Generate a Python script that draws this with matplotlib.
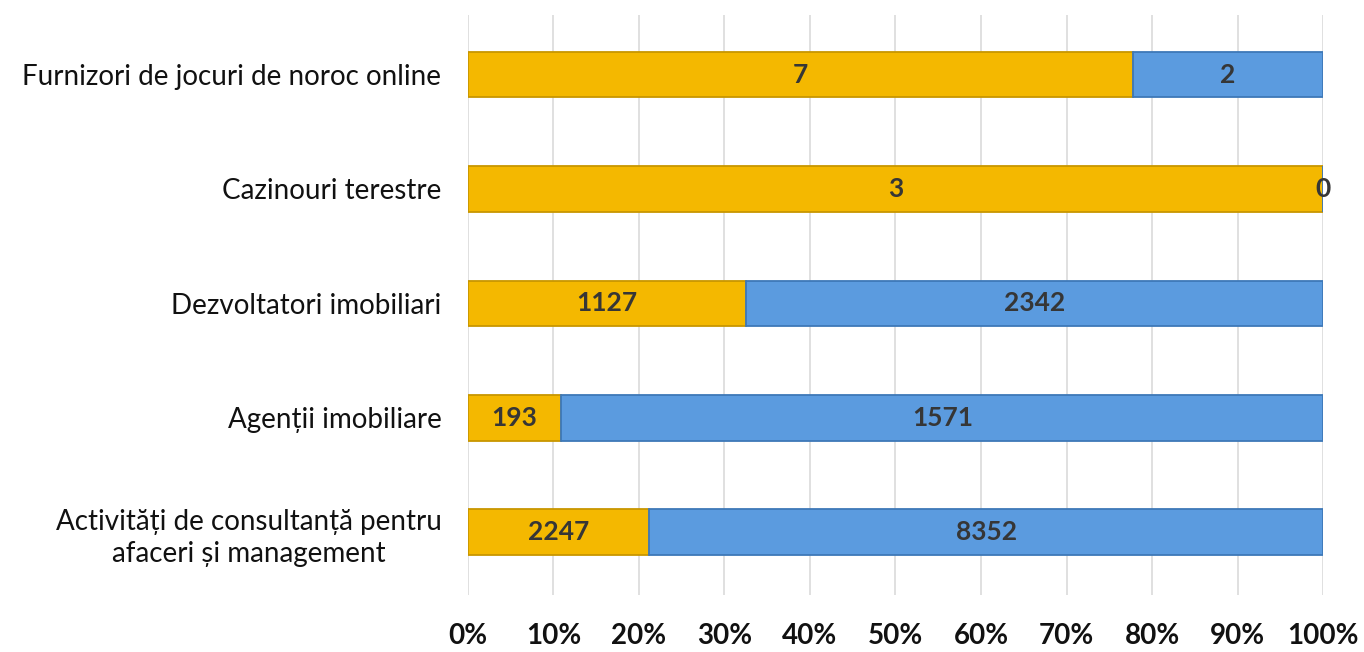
import numpy as np
import matplotlib
matplotlib.use('Agg')
import matplotlib.pyplot as plt

# date din grafic (de sus in jos)
categories = [
    'Furnizori de jocuri de noroc online',
    'Cazinouri terestre',
    'Dezvoltatori imobiliari',
    'Agenții imobiliare',
    'Activități de consultanță pentru\nafaceri și management',
]
series_a = [7, 3, 1127, 193, 2247]
series_b = [2, 0, 2342, 1571, 8352]
tick_labels = ['0%', '10%', '20%', '30%', '40%', '50%', '60%', '70%', '80%', '90%', '100%']

plt.rcParams['font.family'] = ['Lato', 'DejaVu Sans']

fig = plt.figure(figsize=(13.64, 6.52), dpi=100)
ax = fig.add_axes([0.343, 0.087, 0.627, 0.890])

a = np.array(series_a, dtype=float)
b = np.array(series_b, dtype=float)
tot = a + b
pa = a / tot * 100
pb = b / tot * 100
y = np.arange(len(categories))[::-1]

h = 0.40
ax.barh(y, pa, height=h, color='#F4B800', edgecolor='#C89600', linewidth=1.3, zorder=3)
ax.barh(y, pb, left=pa, height=h, color='#5B9BDF', edgecolor='#3E78B8', linewidth=1.3, zorder=3)

for yi, v, w, left in zip(y, series_a, pa, np.zeros(len(pa))):
    ax.text(left + w / 2, yi, str(v), ha='center', va='center', fontsize=19,
            fontweight='bold', color='#363636', zorder=4)
for yi, v, w, left in zip(y, series_b, pb, pa):
    ax.text(left + w / 2, yi, str(v), ha='center', va='center', fontsize=19,
            fontweight='bold', color='#363636', zorder=4)

ax.set_xlim(0, 100)
ax.set_ylim(-0.55, 4.52)
ax.set_xticks(np.arange(0, 101, 10))
ax.set_xticklabels(tick_labels, fontsize=20, fontweight='bold', color='#111111')
ax.set_yticks(y)
ax.set_yticklabels(categories, fontsize=20, color='#111111', linespacing=1.3)
for lbl in ax.get_yticklabels():
    lbl.set_multialignment('center')
ax.tick_params(axis='both', length=0)
ax.tick_params(axis='x', pad=20)
ax.tick_params(axis='y', pad=19)
ax.grid(axis='x', color='#DADADA', linewidth=1.2, zorder=0)
for s in ax.spines.values():
    s.set_visible(False)

fig.savefig('out.png', dpi=100)
